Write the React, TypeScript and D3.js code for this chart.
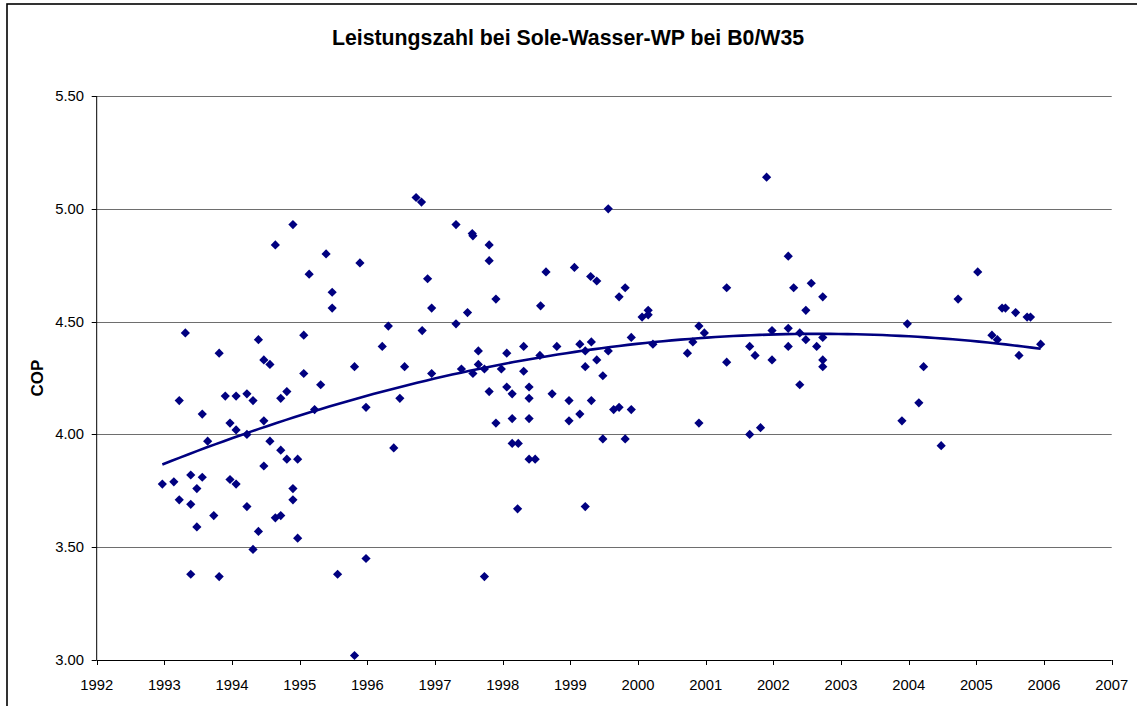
import React from "react";
import * as d3 from "d3";

const title = "Leistungszahl bei Sole-Wasser-WP bei B0/W35";
const yAxisTitle = "COP";
const xTicks = [1992, 1993, 1994, 1995, 1996, 1997, 1998, 1999, 2000, 2001, 2002, 2003, 2004, 2005, 2006, 2007];
const yTicks = [3.0, 3.5, 4.0, 4.5, 5.0, 5.5];

const years = [
  1992.97, 1993.14, 1993.22, 1993.22, 1993.31, 1993.39, 1993.39, 1993.39, 1993.48, 1993.48,
  1993.56, 1993.56, 1993.64, 1993.73, 1993.81, 1993.81, 1993.90, 1993.97, 1993.97, 1994.06,
  1994.06, 1994.06, 1994.22, 1994.22, 1994.22, 1994.31, 1994.31, 1994.39, 1994.39, 1994.47,
  1994.47, 1994.47, 1994.56, 1994.56, 1994.64, 1994.64, 1994.72, 1994.72, 1994.72, 1994.81,
  1994.81, 1994.90, 1994.90, 1994.90, 1994.97, 1994.97, 1995.06, 1995.06, 1995.14, 1995.22,
  1995.31, 1995.39, 1995.48, 1995.48, 1995.56, 1995.81, 1995.81, 1995.89, 1995.98, 1995.98,
  1996.22, 1996.31, 1996.39, 1996.48, 1996.55, 1996.72, 1996.80, 1996.81, 1996.89, 1996.95,
  1996.95, 1997.31, 1997.31, 1997.39, 1997.48, 1997.55, 1997.56, 1997.56, 1997.64, 1997.64,
  1997.73, 1997.73, 1997.80, 1997.80, 1997.80, 1997.90, 1997.90, 1997.98, 1998.06, 1998.06,
  1998.14, 1998.14, 1998.14, 1998.22, 1998.23, 1998.31, 1998.31, 1998.39, 1998.39, 1998.39,
  1998.39, 1998.48, 1998.55, 1998.56, 1998.64, 1998.73, 1998.80, 1998.98, 1998.98, 1999.06,
  1999.14, 1999.14, 1999.22, 1999.22, 1999.22, 1999.30, 1999.31, 1999.31, 1999.39, 1999.39,
  1999.48, 1999.48, 1999.56, 1999.56, 1999.64, 1999.72, 1999.72, 1999.81, 1999.81, 1999.90,
  1999.90, 2000.06, 2000.15, 2000.15, 2000.22, 2000.73, 2000.81, 2000.90, 2000.90, 2000.98,
  2001.31, 2001.31, 2001.65, 2001.65, 2001.73, 2001.81, 2001.90, 2001.98, 2001.98, 2002.22,
  2002.22, 2002.22, 2002.30, 2002.39, 2002.39, 2002.48, 2002.48, 2002.56, 2002.64, 2002.73,
  2002.73, 2002.73, 2002.73, 2003.90, 2003.98, 2004.15, 2004.22, 2004.48, 2004.73, 2005.02,
  2005.23, 2005.31, 2005.38, 2005.43, 2005.58, 2005.63, 2005.75, 2005.80, 2005.95,
];

const cop = [
  3.78, 3.79, 4.15, 3.71, 4.45, 3.82, 3.69, 3.38, 3.76, 3.59,
  4.09, 3.81, 3.97, 3.64, 4.36, 3.37, 4.17, 4.05, 3.80, 4.17,
  4.02, 3.78, 4.18, 4.00, 3.68, 4.15, 3.49, 4.42, 3.57, 4.33,
  4.06, 3.86, 4.31, 3.97, 4.84, 3.63, 4.16, 3.93, 3.64, 4.19,
  3.89, 4.93, 3.76, 3.71, 3.89, 3.54, 4.44, 4.27, 4.71, 4.11,
  4.22, 4.80, 4.63, 4.56, 3.38, 4.30, 3.02, 4.76, 4.12, 3.45,
  4.39, 4.48, 3.94, 4.16, 4.30, 5.05, 5.03, 4.46, 4.69, 4.56,
  4.27, 4.93, 4.49, 4.29, 4.54, 4.89, 4.88, 4.27, 4.37, 4.31,
  4.29, 3.37, 4.84, 4.77, 4.19, 4.60, 4.05, 4.29, 4.36, 4.21,
  4.18, 4.07, 3.96, 3.67, 3.96, 4.39, 4.28, 4.21, 4.16, 4.07,
  3.89, 3.89, 4.35, 4.57, 4.72, 4.18, 4.39, 4.15, 4.06, 4.74,
  4.40, 4.09, 4.37, 4.30, 3.68, 4.70, 4.41, 4.15, 4.68, 4.33,
  4.26, 3.98, 5.00, 4.37, 4.11, 4.61, 4.12, 4.65, 3.98, 4.43,
  4.11, 4.52, 4.55, 4.53, 4.40, 4.36, 4.41, 4.48, 4.05, 4.45,
  4.65, 4.32, 4.39, 4.00, 4.35, 4.03, 5.14, 4.46, 4.33, 4.79,
  4.47, 4.39, 4.65, 4.45, 4.22, 4.55, 4.42, 4.67, 4.39, 4.61,
  4.43, 4.33, 4.30, 4.06, 4.49, 4.14, 4.30, 3.95, 4.60, 4.72,
  4.44, 4.42, 4.56, 4.56, 4.54, 4.35, 4.52, 4.52, 4.40,
];

// Quadratic least squares (like Excel's polynomial trendline, order 2)
function quadFit(xs: number[], ys: number[]) {
  const x0 = 1999;
  let s0 = 0, s1 = 0, s2 = 0, s3 = 0, s4 = 0, t0 = 0, t1 = 0, t2 = 0;
  for (let i = 0; i < xs.length; i++) {
    const x = xs[i] - x0, y = ys[i];
    s0 += 1; s1 += x; s2 += x * x; s3 += x * x * x; s4 += x * x * x * x;
    t0 += y; t1 += x * y; t2 += x * x * y;
  }
  const A = [[s0, s1, s2, t0], [s1, s2, s3, t1], [s2, s3, s4, t2]];
  for (let c = 0; c < 3; c++) {
    for (let r = c + 1; r < 3; r++) {
      const f = A[r][c] / A[c][c];
      for (let k = c; k < 4; k++) A[r][k] -= f * A[c][k];
    }
  }
  const sol = [0, 0, 0];
  for (let r = 2; r >= 0; r--) {
    let s = A[r][3];
    for (let k = r + 1; k < 3; k++) s -= A[r][k] * sol[k];
    sol[r] = s / A[r][r];
  }
  return (x: number) => sol[0] + sol[1] * (x - x0) + sol[2] * (x - x0) * (x - x0);
}

export default function App() {
  const W = 1137, H = 706;
  const x = d3.scaleLinear().domain([1992, 2007]).range([96.7, 1111.7]);
  const y = d3.scaleLinear().domain([3, 5.5]).range([660, 96]);
  const font = "'Liberation Sans', Arial, Helvetica, sans-serif";
  const navy = "#000080";

  const f = quadFit(years, cop);
  const xmin = d3.min(years) as number, xmax = d3.max(years) as number;
  const trendPts = d3.range(0, 101).map((i) => xmin + ((xmax - xmin) * i) / 100);
  const line = d3.line<number>().x((d) => x(d)).y((d) => y(f(d)));

  const r = 4.6;
  const diamond = (cx: number, cy: number) =>
    `M${cx},${cy - r}L${cx + r},${cy}L${cx},${cy + r}L${cx - r},${cy}Z`;

  return (
    <svg width={W} height={H} style={{ position: "absolute", left: 0, top: 0, background: "#fff" }}>
      <rect x={0} y={0} width={W} height={H} fill="#fff" />
      <rect x={7} y={4} width={W + 20} height={H + 20} fill="none" stroke="#000" strokeWidth={1.6} />
      <text x={568} y={45} textAnchor="middle" fontFamily={font} fontWeight="bold" fontSize={21.3} fill="#000">
        {title}
      </text>
      <text
        transform={`translate(43,378) rotate(-90)`}
        textAnchor="middle"
        fontFamily={font}
        fontWeight="bold"
        fontSize={17}
        fill="#000"
      >
        {yAxisTitle}
      </text>
      {yTicks.filter((t) => t > 3).map((t) => (
        <line key={"g" + t} x1={x(1992)} x2={x(2007)} y1={Math.round(y(t)) + 0.5} y2={Math.round(y(t)) + 0.5} stroke="#6e6e6e" strokeWidth={1.2} />
      ))}
      <line x1={x(1992)} x2={x(1992)} y1={y(5.5)} y2={y(3)} stroke="#000" strokeWidth={1} />
      <line x1={x(1992)} x2={x(2007)} y1={y(3) + 0.5} y2={y(3) + 0.5} stroke="#000" strokeWidth={1} />
      {yTicks.map((t) => (
        <g key={"yt" + t}>
          <line x1={x(1992) - 5} x2={x(1992)} y1={Math.round(y(t)) + 0.5} y2={Math.round(y(t)) + 0.5} stroke="#000" />
          <text x={84} y={y(t) + 5} textAnchor="end" fontFamily={font} fontSize={14.8} fill="#000">
            {t.toFixed(2)}
          </text>
        </g>
      ))}
      {xTicks.map((t) => (
        <g key={"xt" + t}>
          <line x1={Math.round(x(t)) + 0.5} x2={Math.round(x(t)) + 0.5} y1={y(3)} y2={y(3) + 5} stroke="#000" />
          <text x={x(t)} y={690} textAnchor="middle" fontFamily={font} fontSize={14.8} fill="#000">
            {t}
          </text>
        </g>
      ))}
      {years.map((yr, i) => (
        <path key={"p" + i} d={diamond(x(yr), y(cop[i]))} fill={navy} />
      ))}
      <path d={line(trendPts) || ""} fill="none" stroke={navy} strokeWidth={2.6} />
    </svg>
  );
}
